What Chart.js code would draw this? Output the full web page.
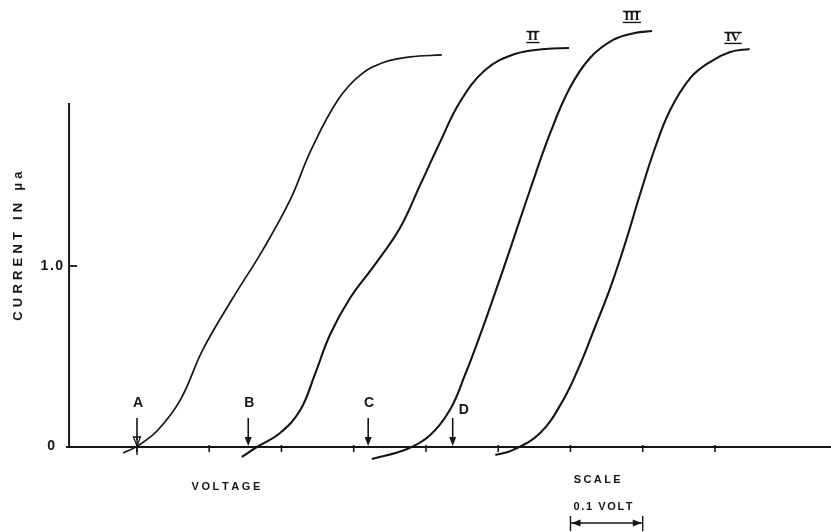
<!DOCTYPE html>
<html><head><meta charset="utf-8">
<script src="https://cdn.jsdelivr.net/npm/chart.js@4"></script>
<style>html,body{margin:0;padding:0;background:#fff}canvas{display:block}</style>
</head><body>
<canvas id="c" width="831" height="532"></canvas>
<script>
// ---- data (voltage in V relative to marker A, current in microampere) ----
const curveNames  = ['I', 'II', 'III', 'IV'];
const curveLabels = ['', 'II', 'III', 'IV'];

const volts1   = [-0.019, 0.001, 0.029, 0.060, 0.091, 0.131, 0.174, 0.212, 0.241, 0.278, 0.309, 0.343, 0.378, 0.422];
const current1 = [-0.033, 0.006, 0.094, 0.260, 0.536, 0.812, 1.088, 1.365, 1.641, 1.917, 2.055, 2.127, 2.155, 2.166];

const volts2   = [0.145, 0.166, 0.198, 0.226, 0.246, 0.267, 0.295, 0.329, 0.364, 0.392, 0.419, 0.447, 0.482, 0.523, 0.565, 0.598];
const current2 = [-0.055, 0.000, 0.077, 0.204, 0.398, 0.619, 0.823, 1.006, 1.210, 1.448, 1.680, 1.906, 2.083, 2.171, 2.199, 2.204];

const volts3   = [0.325, 0.374, 0.406, 0.433, 0.454, 0.475, 0.496, 0.516, 0.544, 0.572, 0.599, 0.627, 0.659, 0.689, 0.713];
const current3 = [-0.066, -0.011, 0.066, 0.204, 0.398, 0.619, 0.856, 1.088, 1.420, 1.735, 1.983, 2.149, 2.249, 2.287, 2.298];

const volts4   = [0.496, 0.520, 0.558, 0.590, 0.613, 0.634, 0.655, 0.675, 0.696, 0.717, 0.738, 0.766, 0.793, 0.821, 0.848];
const current4 = [-0.044, -0.017, 0.077, 0.260, 0.453, 0.663, 0.878, 1.116, 1.392, 1.652, 1.862, 2.039, 2.127, 2.182, 2.199];

const xTickValues = [0.0, 0.1, 0.2, 0.3, 0.4, 0.5, 0.6, 0.7, 0.8];
const yTickValues = [0, 1.0];
const yTickLabels = ['0', '1.0'];

const markerLabels = ['A', 'B', 'C', 'D'];
const markerVolts  = [0.000, 0.154, 0.320, 0.437];

const voltsAll   = [volts1, volts2, volts3, volts4];
const currentAll = [current1, current2, current3, current4];

// ---- layout / annotation anchors (in data units) ----
const AX = { xMin: -0.1896, xMax: 0.9606, yMin: -0.4696, yMax: 2.4696,
             yAxisAt: -0.094, yAxisTop: 1.9, xAxisEnd: 0.9606 };
const curveLabelPos = [null, [0.548, 2.265], [0.685, 2.376], [0.825, 2.26]];

const datasets = curveNames.map((n, i) => ({
  label: n,
  data: voltsAll[i].map((v, k) => ({ x: v, y: currentAll[i][k] })),
  borderColor: '#151515',
  borderWidth: i === 0 ? 1.7 : 2.1,
  pointRadius: 0,
  fill: false,
  tension: 0.4
}));

function spaced(ctx, text, x, y, sp, align) {
  let w = 0; const ws = [];
  for (const ch of text) { const m = ctx.measureText(ch).width; ws.push(m); w += m + sp; }
  w -= sp;
  let cx = align === 'center' ? x - w / 2 : (align === 'right' ? x - w : x);
  let i = 0;
  ctx.textAlign = 'left';
  for (const ch of text) { ctx.fillText(ch, cx, y); cx += ws[i++] + sp; }
}

const decor = {
  id: 'decor',
  afterDatasetsDraw(chart) {
    const ctx = chart.ctx;
    const X = v => chart.scales.x.getPixelForValue(v);
    const Y = v => chart.scales.y.getPixelForValue(v);
    ctx.save();
    ctx.strokeStyle = '#151515'; ctx.fillStyle = '#151515';
    ctx.lineCap = 'butt';
    const ln = (x1, y1, x2, y2, w) => { ctx.lineWidth = w; ctx.beginPath(); ctx.moveTo(x1, y1); ctx.lineTo(x2, y2); ctx.stroke(); };

    // axes
    const ax = X(AX.yAxisAt), y0 = Y(0);
    ln(ax, y0 + 1, ax, Y(AX.yAxisTop), 2);
    ln(ax - 3, y0, X(AX.xAxisEnd), y0, 2);
    // y ticks
    yTickValues.forEach(v => { if (v !== 0) ln(ax, Y(v), ax + 8, Y(v), 1.8); });
    ctx.font = 'bold 14px "Liberation Sans", Arial, sans-serif';
    ctx.textBaseline = 'middle';
    yTickValues.forEach((v, i) => {
      const lab = yTickLabels[i];
      spaced(ctx, lab, v === 0 ? ax - 14 : ax - 6, Y(v) - (v === 0 ? 1 : 0), 1.5, 'right');
    });
    // x ticks
    xTickValues.forEach(v => ln(X(v), y0 - 2, X(v), y0 + 5, 1.6));

    // markers A-D
    markerVolts.forEach((v, i) => {
      const x = X(v), top = Y(0.16), bot = y0 - 1;
      ln(x, top, x, bot - 6, 1.6);
      ctx.beginPath(); ctx.moveTo(x - 3.5, bot - 9); ctx.lineTo(x + 3.5, bot - 9); ctx.lineTo(x, bot); ctx.closePath();
      if (i === 0) { ctx.lineWidth = 1.3; ctx.stroke(); ln(x, bot - 9, x, y0 + 8, 1.4); }
      else ctx.fill();
      ctx.font = 'bold 14px "Liberation Sans", Arial, sans-serif';
      ctx.textBaseline = 'middle'; ctx.textAlign = 'center';
      if (i === 3) { ctx.textAlign = 'left'; ctx.fillText(markerLabels[i], x + 6, Y(0.204)); }
      else ctx.fillText(markerLabels[i], x + 1, Y(0.243));
    });

    // curve labels
    ctx.font = 'bold 13px "Liberation Serif", "DejaVu Serif", serif';
    ctx.textAlign = 'center'; ctx.textBaseline = 'middle';
    curveLabels.forEach((t, i) => {
      if (!t) return;
      const p = curveLabelPos[i];
      const x = X(p[0]), y = Y(p[1]);
      ctx.fillText(t, x, y);
      const w = ctx.measureText(t).width + 3;
      ln(x - w / 2, y - 5.5, x + w / 2, y - 5.5, 1.4);
      ln(x - w / 2, y + 5.5, x + w / 2, y + 5.5, 1.4);
    });

    // bottom texts
    ctx.font = 'bold 11px "Liberation Sans", Arial, sans-serif';
    ctx.textBaseline = 'middle';
    spaced(ctx, 'VOLTAGE', X(0.123), Y(-0.221), 2.6, 'center');
    spaced(ctx, 'SCALE', X(0.637), Y(-0.182), 2.4, 'center');
    spaced(ctx, '0.1 VOLT', X(0.645), Y(-0.331), 1.6, 'center');
    // scale bar 0.1 V
    const sx1 = X(0.6), sx2 = X(0.7), sy = Y(-0.42);
    ln(sx1, sy, sx2, sy, 1.6);
    ln(sx1, sy - 7, sx1, sy + 8, 1.4);
    ln(sx2, sy - 7, sx2, sy + 8, 1.4);
    ctx.beginPath(); ctx.moveTo(sx1 + 1, sy); ctx.lineTo(sx1 + 10, sy - 3.5); ctx.lineTo(sx1 + 10, sy + 3.5); ctx.closePath(); ctx.fill();
    ctx.beginPath(); ctx.moveTo(sx2 - 1, sy); ctx.lineTo(sx2 - 10, sy - 3.5); ctx.lineTo(sx2 - 10, sy + 3.5); ctx.closePath(); ctx.fill();

    // y title
    ctx.save();
    ctx.translate(18, Y(1.11));
    ctx.rotate(-Math.PI / 2);
    ctx.font = 'bold 13px "Liberation Sans", Arial, sans-serif';
    ctx.textBaseline = 'middle';
    spaced(ctx, 'CURRENT IN μa', 0, 0, 4.2, 'center');
    ctx.restore();

    ctx.restore();
  }
};

new Chart(document.getElementById('c'), {
  type: 'line',
  data: { datasets },
  options: {
    responsive: false,
    animation: false,
    layout: { padding: 0 },
    plugins: { legend: { display: false }, tooltip: { enabled: false } },
    scales: {
      x: { type: 'linear', min: AX.xMin, max: AX.xMax, display: false },
      y: { type: 'linear', min: AX.yMin, max: AX.yMax, display: false }
    }
  },
  plugins: [decor]
});
</script>
</body></html>
